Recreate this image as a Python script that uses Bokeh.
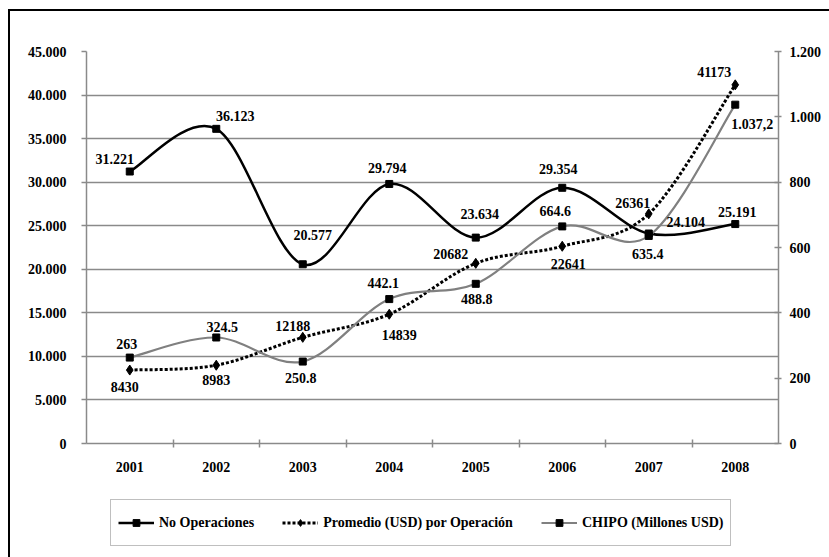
from bokeh.plotting import figure
from bokeh.layouts import column
from bokeh.models import (Range1d, LinearAxis, FixedTicker, ColumnDataSource,
                          Legend, LegendItem)
from bokeh.core.properties import value
from bokeh.embed import file_html
from bokeh.resources import INLINE

# ---------------- data ----------------
years = ["2001", "2002", "2003", "2004", "2005", "2006", "2007", "2008"]
no_operaciones = [31221, 36123, 20577, 29794, 23634, 29354, 24104, 25191]
promedio = [8430, 8983, 12188, 14839, 20682, 22641, 26361, 41173]
chipo = [263, 324.5, 250.8, 442.1, 488.8, 664.6, 635.4, 1037.2]

no_operaciones_labels = ["31.221", "36.123", "20.577", "29.794", "23.634", "29.354", "24.104", "25.191"]
promedio_labels = ["8430", "8983", "12188", "14839", "20682", "22641", "26361", "41173"]
chipo_labels = ["263", "324.5", "250.8", "442.1", "488.8", "664.6", "635.4", "1.037,2"]

left_ticks = [0, 5000, 10000, 15000, 20000, 25000, 30000, 35000, 40000, 45000]
left_tick_labels = ["0", "5.000", "10.000", "15.000", "20.000", "25.000", "30.000", "35.000", "40.000", "45.000"]
right_ticks = [0, 200, 400, 600, 800, 1000, 1200]
right_tick_labels = ["0", "200", "400", "600", "800", "1.000", "1.200"]

series_names = ["No Operaciones", "Promedio (USD) por Operación", "CHIPO (Millones USD)"]

# ---------------- label offsets (screen px, style) ----------------
no_ops_dx = [-15, 19, 10, -2, 4, -4, 37, 2]
no_ops_dy = [-13, -13, -29, -16, -24, -19, -12, -12]
prom_dx = [-5, 0, -10, 10, -25, 6, -16, -21]
prom_dy = [17, 15, -11, 21, -9, 18, -11, -13]
chipo_dx = [-3, 6, -2, -6, 1, -7, -1, 17]
chipo_dy = [-14, -10, 16, -16, 15, -15, 18, 19]

FONT = "Liberation Serif"
GRAY = "#8a8a8a"

x = list(range(1, len(years) + 1))

NO_STYLE = dict(line_color="black", line_width=2.5)
PR_STYLE = dict(line_color="black", line_width=3, line_dash="3 2")
CH_STYLE = dict(line_color="#808080", line_width=2.2)
NO_MARK = dict(marker="square", size=7, fill_color="black", line_color="black")
PR_MARK = dict(marker="diamond", size=10, fill_color="black", line_color="black")
CH_MARK = dict(marker="square", size=7, fill_color="black", line_color="black")
BEZ = dict(x0="x0", y0="y0", x1="x1", y1="y1", cx0="cx0", cy0="cy0", cx1="cx1", cy1="cy1")


def smooth_source(xs, ys):
    """Bezier segments (Excel-like smoothed line) through the data points."""
    n = len(xs)

    def pt(i):
        i = max(0, min(n - 1, i))
        return xs[i], ys[i]

    d = dict(x0=[], y0=[], x1=[], y1=[], cx0=[], cy0=[], cx1=[], cy1=[])
    for i in range(n - 1):
        xa, ya = pt(i)
        xb, yb = pt(i + 1)
        xp, yp = pt(i - 1)
        xn, yn = pt(i + 2)
        d["x0"].append(xa); d["y0"].append(ya)
        d["x1"].append(xb); d["y1"].append(yb)
        d["cx0"].append(xa + (xb - xp) / 6.0); d["cy0"].append(ya + (yb - yp) / 6.0)
        d["cx1"].append(xb - (xn - xa) / 6.0); d["cy1"].append(yb - (yn - ya) / 6.0)
    return ColumnDataSource(d)


p = figure(width=819, height=482,
           x_range=Range1d(0.5, len(years) + 0.5),
           y_range=Range1d(left_ticks[0], left_ticks[-1]),
           output_backend="svg", toolbar_location=None,
           min_border_left=76, min_border_right=51,
           min_border_top=40, min_border_bottom=50,
           background_fill_color="white", border_fill_color="white",
           outline_line_color=None)
p.extra_y_ranges = {"right": Range1d(right_ticks[0], right_ticks[-1])}

# x axis
xa = p.xaxis[0]
xa.ticker = FixedTicker(ticks=x, minor_ticks=[v + 0.5 for v in x[:-1]])
xa.major_label_overrides = {v: years[i] for i, v in enumerate(x)}
xa.axis_line_color = GRAY
xa.axis_line_width = 1.5
xa.major_tick_in = 0
xa.major_tick_out = 0
xa.minor_tick_in = 4
xa.minor_tick_out = 4
xa.minor_tick_line_color = GRAY
xa.minor_tick_line_width = 1.5
xa.major_label_standoff = 14
xa.major_label_text_font = FONT
xa.major_label_text_font_style = "bold"
xa.major_label_text_font_size = "14px"
xa.major_label_text_color = "black"

# left axis
ya = p.yaxis[0]
ya.ticker = FixedTicker(ticks=left_ticks)
ya.major_label_overrides = {v: left_tick_labels[i] for i, v in enumerate(left_ticks)}
ya.axis_line_color = GRAY
ya.axis_line_width = 1.5
ya.major_tick_in = 0
ya.major_tick_out = 5
ya.major_tick_line_color = GRAY
ya.major_tick_line_width = 1.5
ya.minor_tick_line_color = None
ya.major_label_standoff = 15
ya.major_label_text_font = FONT
ya.major_label_text_font_style = "bold"
ya.major_label_text_font_size = "14px"
ya.major_label_text_color = "black"

# right axis
ra = LinearAxis(y_range_name="right", ticker=FixedTicker(ticks=right_ticks))
ra.major_label_overrides = {v: right_tick_labels[i] for i, v in enumerate(right_ticks)}
ra.axis_line_color = GRAY
ra.axis_line_width = 1.5
ra.major_tick_in = 4
ra.major_tick_out = 3
ra.major_tick_line_color = GRAY
ra.major_tick_line_width = 1.5
ra.minor_tick_line_color = None
ra.major_label_standoff = 8
ra.major_label_text_font = FONT
ra.major_label_text_font_style = "bold"
ra.major_label_text_font_size = "14px"
ra.major_label_text_color = "black"
p.add_layout(ra, "right")

# grid
p.xgrid.visible = False
p.ygrid.ticker = FixedTicker(ticks=left_ticks)
p.ygrid.grid_line_color = GRAY
p.ygrid.grid_line_width = 1.5

# ---------------- series ----------------
p.bezier(source=smooth_source(x, no_operaciones), **BEZ, **NO_STYLE)
p.bezier(source=smooth_source(x, promedio), **BEZ, **PR_STYLE)
p.bezier(source=smooth_source(x, chipo), y_range_name="right", **BEZ, **CH_STYLE)

p.scatter(x=x, y=no_operaciones, **NO_MARK)
p.scatter(x=x, y=promedio, **PR_MARK)
p.scatter(x=x, y=chipo, y_range_name="right", **CH_MARK)

# ---------------- data labels ----------------
def add_labels(vals, labels, dx, dy, rng="default"):
    src = ColumnDataSource(dict(x=x, y=vals, text=labels, dx=dx, dy=dy))
    p.text(x="x", y="y", text="text", x_offset="dx", y_offset="dy", source=src,
           text_font=value(FONT), text_font_style="bold", text_font_size="14px",
           text_align="center", text_baseline="middle", text_color="black",
           y_range_name=rng)

add_labels(no_operaciones, no_operaciones_labels, no_ops_dx, no_ops_dy)
add_labels(promedio, promedio_labels, prom_dx, prom_dy)
add_labels(chipo, chipo_labels, chipo_dx, chipo_dy, "right")

# ---------------- legend (separate strip below the chart) ----------------
# The strip's ranges exclude the data, so its copies of the series stay hidden
# and only serve as legend samples.
pl = figure(width=819, height=64, x_range=Range1d(-2, -1), y_range=Range1d(-2, -1),
            x_axis_location=None, y_axis_location=None,
            output_backend="svg", toolbar_location=None,
            min_border=0, background_fill_color="white", border_fill_color="white",
            outline_line_color=None)
pl.xgrid.visible = False
pl.ygrid.visible = False

l_no = pl.bezier(source=smooth_source(x, no_operaciones), **BEZ, **NO_STYLE)
l_pr = pl.bezier(source=smooth_source(x, promedio), **BEZ, **PR_STYLE)
l_ch = pl.bezier(source=smooth_source(x, chipo), **BEZ, **CH_STYLE)
m_no = pl.scatter(x=x, y=no_operaciones, **NO_MARK)
m_pr = pl.scatter(x=x, y=promedio, **PR_MARK)
m_ch = pl.scatter(x=x, y=chipo, **CH_MARK)

legend = Legend(items=[
    LegendItem(label=series_names[0], renderers=[l_no, m_no]),
    LegendItem(label=series_names[1], renderers=[l_pr, m_pr]),
    LegendItem(label=series_names[2], renderers=[l_ch, m_ch]),
], location=(24, 11), orientation="horizontal")
legend.padding = 7
legend.spacing = 28
legend.label_standoff = 5
legend.glyph_width = 36
legend.glyph_height = 17
legend.label_height = 31
legend.margin = 0
legend.border_line_color = "#808080"
legend.border_line_width = 1.5
legend.background_fill_color = "white"
legend.background_fill_alpha = 1.0
legend.label_text_font = FONT
legend.label_text_font_style = "bold"
legend.label_text_font_size = "14px"
legend.label_text_color = "black"
pl.add_layout(legend, "center")

layout = column(p, pl, spacing=0)
layout.styles = {"margin-left": "8px", "margin-top": "9px",
                 "border-left": "2px solid black", "border-top": "2px solid black"}

open("out.html", "w").write(file_html(layout, INLINE))
